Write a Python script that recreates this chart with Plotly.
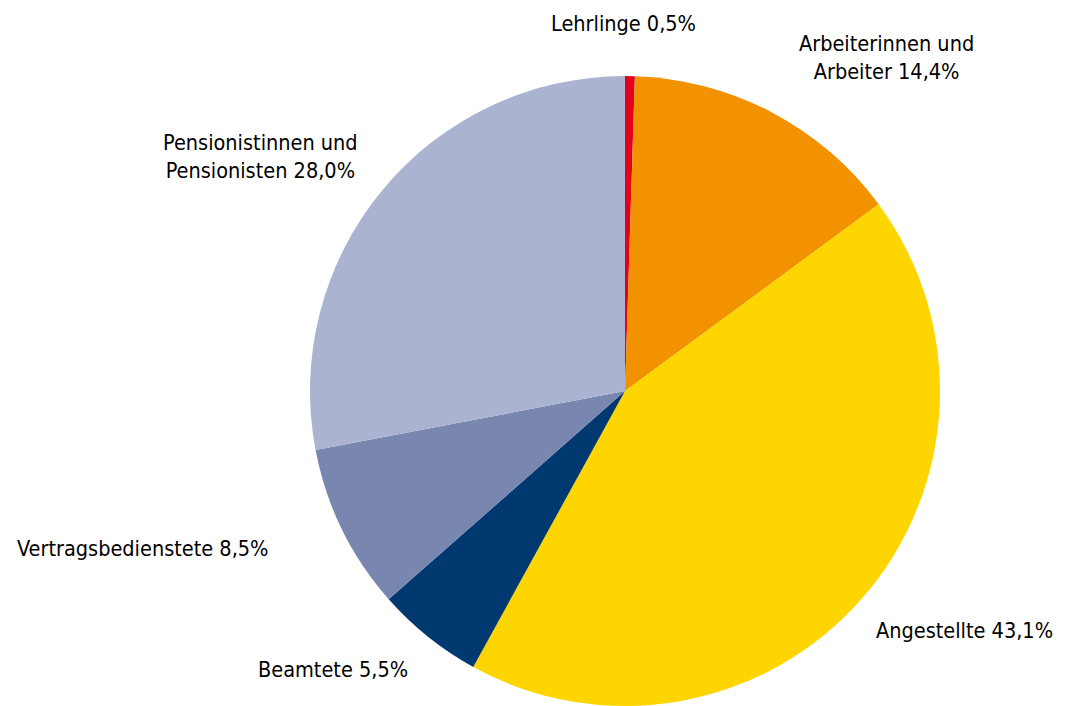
import plotly.graph_objects as go

OFF = 8  # default body margin of the html page
W, H = 1066 - OFF, 706 - OFF

categories = ["Lehrlinge", "Arbeiterinnen und<br>Arbeiter", "Angestellte", "Beamtete",
              "Vertragsbedienstete", "Pensionistinnen und<br>Pensionisten"]
values = [0.5, 14.4, 43.1, 5.5, 8.5, 28.0]
value_labels = ["0,5%", "14,4%", "43,1%", "5,5%", "8,5%", "28,0%"]
colors = ["#E2001A", "#F39200", "#FFD500", "#003870", "#7886B0", "#AAB3CF"]

# label anchor positions in window pixels (center of text block)
label_px = [(623, 24), (886, 58), (964, 630), (333, 669), (142, 548), (260, 156)]

font_family = "Liberation Sans Narrow, Arial Narrow, DejaVu Sans Condensed, sans-serif"

cx, cy, r = 625 - OFF, 392 - OFF, 316

fig = go.Figure(go.Pie(
    labels=categories,
    values=values,
    sort=False,
    direction="clockwise",
    rotation=0,
    marker=dict(colors=colors, line=dict(width=0)),
    textinfo="none",
    hoverinfo="label+percent",
    showlegend=False,
    domain=dict(x=[(cx - r) / W, (cx + r) / W],
                y=[max(0.0, (H - cy - r) / H), (H - cy + r) / H]),
))

for cat, vl, (px, py) in zip(categories, value_labels, label_px):
    fig.add_annotation(
        x=(px - OFF) / W, y=1 - (py - OFF) / H, xref="paper", yref="paper",
        text=f"{cat} {vl}", showarrow=False,
        xanchor="center", yanchor="middle", align="center",
        font=dict(family=font_family, size=21.5, color="#000000"),
    )

fig.update_layout(
    width=W, height=H,
    margin=dict(l=0, r=0, t=0, b=0),
    paper_bgcolor="white", plot_bgcolor="white",
)

fig.write_html("out.html")
